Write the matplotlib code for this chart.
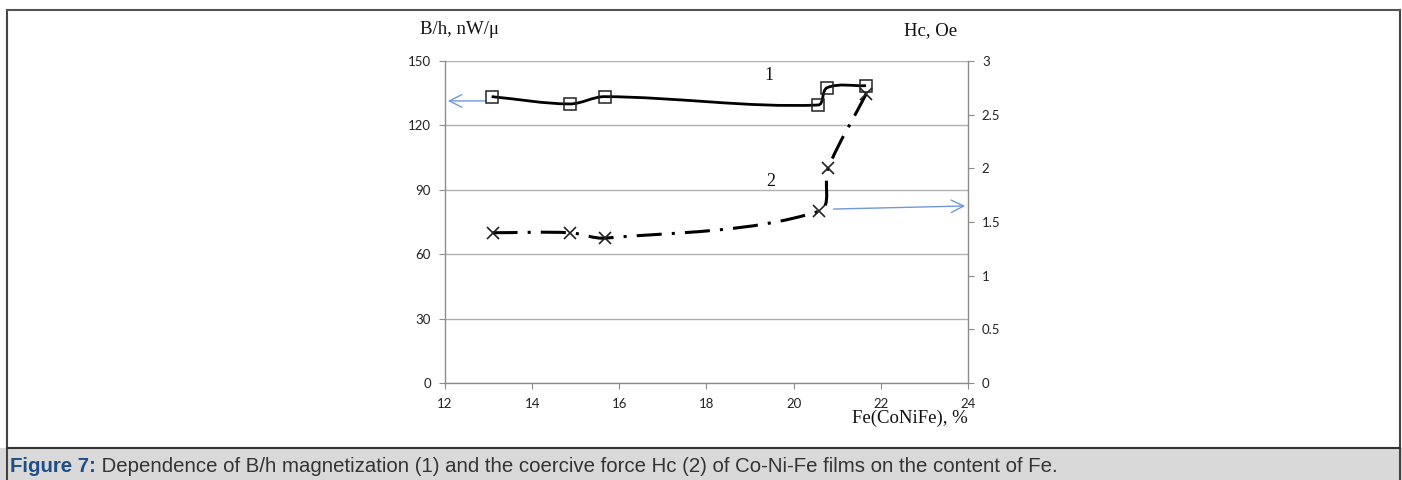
import matplotlib
matplotlib.use("Agg")
import matplotlib.pyplot as plt
from matplotlib.path import Path
from matplotlib.patches import PathPatch, Rectangle
from matplotlib import font_manager
import numpy as np

# ---- data ----
fe_bh = [13.07, 14.87, 15.66, 20.56, 20.77, 21.66]
bh = [133.4, 130.0, 133.4, 129.5, 137.6, 138.5]
fe_hc = [13.09, 14.87, 15.68, 20.58, 20.79, 21.66]
hc = [1.40, 1.40, 1.35, 1.60, 2.00, 2.69]
x_ticks = [12, 14, 16, 18, 20, 22, 24]
y_left_ticks = [0, 30, 60, 90, 120, 150]
y_right_ticks = [0, 0.5, 1, 1.5, 2, 2.5, 3]
right_tick_labels = ["0", "0.5", "1", "1.5", "2", "2.5", "3"]
arrow_left = (13.0, 131.4, 12.0, 131.4)
arrow_right = (20.85, 1.62, 24.0, 1.65)
caption_bold = "Figure 7:"
caption_rest = " Dependence of B/h magnetization (1) and the coercive force Hc (2) of Co-Ni-Fe films on the content of Fe."

W, H = 1402, 480
fig = plt.figure(figsize=(W / 100, H / 100), dpi=100)

installed = {f.name for f in font_manager.fontManager.ttflist}
tick_family = "Liberation Sans Narrow" if "Liberation Sans Narrow" in installed else "Lato"

# frame and caption band
fig.patches.append(Rectangle((0, 0), 1, 1 - 448 / H, transform=fig.transFigure,
                             facecolor="#d9d9d9", edgecolor="none", zorder=0))
fig.add_artist(plt.Line2D([7 / W, 7 / W], [0, 1 - 10 / H], color="#444444", lw=1.5))
fig.add_artist(plt.Line2D([1400 / W, 1400 / W], [0, 1 - 10 / H], color="#444444", lw=1.5))
fig.add_artist(plt.Line2D([7 / W, 1400 / W], [1 - 10 / H, 1 - 10 / H], color="#555555", lw=1.5))
fig.add_artist(plt.Line2D([7 / W, 1400 / W], [1 - 448 / H, 1 - 448 / H], color="#333333", lw=1.5))

ax_w_px, ax_h_px = 968 - 445, 383 - 61
ax = fig.add_axes([445 / W, 1 - 383 / H, ax_w_px / W, ax_h_px / H])
ax2 = ax.twinx()

ax.set_xlim(12, 24)
ax.set_ylim(0, 150)
ax2.set_ylim(0, 3)

tick_font = dict(family=tick_family, size=9.5, color="#222222")
ax.set_xticks(x_ticks)
ax.set_xticklabels([str(t) for t in x_ticks], **tick_font)
ax.set_yticks(y_left_ticks)
ax.set_yticklabels([str(t) for t in y_left_ticks], **tick_font)
ax2.set_yticks(y_right_ticks)
ax2.set_yticklabels(right_tick_labels, **tick_font)

for a in (ax, ax2):
    for s in a.spines.values():
        s.set_visible(False)
ax.spines["left"].set_visible(True)
ax.spines["bottom"].set_visible(True)
ax2.spines["right"].set_visible(True)
for s in (ax.spines["left"], ax.spines["bottom"], ax2.spines["right"]):
    s.set_color("#8c8c8c")
    s.set_linewidth(1.0)
ax.tick_params(axis="y", direction="out", length=4, color="#8c8c8c", pad=6)
ax.tick_params(axis="x", direction="out", length=4, color="#8c8c8c", pad=7)
ax2.tick_params(axis="y", direction="out", length=4, color="#8c8c8c", pad=6)
ax.yaxis.grid(True, color="#b0b0b0", lw=1.0)
ax.set_axisbelow(True)


def smooth_path(xs, ys, sx, sy):
    # smoothing computed in pixel-like space so the curve does not loop
    pts = np.column_stack([np.asarray(xs) * sx, np.asarray(ys) * sy]).astype(float)
    n = len(pts)
    verts = [pts[0]]
    codes = [Path.MOVETO]
    for i in range(n - 1):
        p0 = pts[i - 1] if i > 0 else pts[i]
        p1 = pts[i]
        p2 = pts[i + 1]
        p3 = pts[i + 2] if i + 2 < n else pts[i + 1]
        seg = np.linalg.norm(p2 - p1)
        t1 = p2 - p0
        t2 = p3 - p1
        t1 = t1 / (np.linalg.norm(t1) or 1.0)
        t2 = t2 / (np.linalg.norm(t2) or 1.0)
        c1 = p1 + t1 * seg / 3.0
        c2 = p2 - t2 * seg / 3.0
        verts += [c1, c2, p2]
        codes += [Path.CURVE4] * 3
    verts = np.array(verts)
    verts[:, 0] /= sx
    verts[:, 1] /= sy
    return Path(verts, codes)


p1 = PathPatch(smooth_path(fe_bh, bh, ax_w_px / 12, ax_h_px / 150),
               facecolor="none", edgecolor="black", lw=2.0, zorder=3)
ax.add_patch(p1)
ax.plot(fe_bh, bh, linestyle="none", marker="s", ms=8, mfc="none", mec="#222222", mew=1.1, zorder=4)

p2 = PathPatch(smooth_path(fe_hc, hc, ax_w_px / 12, ax_h_px / 3),
               facecolor="none", edgecolor="black", lw=2.2,
               linestyle=(0, (8.2, 3.3, 1.0, 3.3)), zorder=3)
ax2.add_patch(p2)
ax2.plot(fe_hc, hc, linestyle="none", marker="x", ms=8, mec="#222222", mew=1.2, zorder=4)

# arrows
ax.annotate("", xy=(arrow_left[2], arrow_left[3]), xytext=(arrow_left[0], arrow_left[1]),
            arrowprops=dict(arrowstyle="->,head_length=0.9,head_width=0.45", color="#6f9ad6", lw=1.0),
            annotation_clip=False)
ax2.annotate("", xy=(arrow_right[2], arrow_right[3]), xytext=(arrow_right[0], arrow_right[1]),
             arrowprops=dict(arrowstyle="->,head_length=0.9,head_width=0.45", color="#6f9ad6", lw=1.0),
             annotation_clip=False)

serif = dict(family="Liberation Serif", color="#111111")
fig.text(460 / W, 1 - 30 / H, "B/h, nW/\u03bc", ha="center", va="center", size=13.5, **serif)
fig.text(931 / W, 1 - 31 / H, "Hc, Oe", ha="center", va="center", size=13.5, **serif)
fig.text(968 / W, 1 - 418 / H, "Fe(CoNiFe), %", ha="right", va="center", size=13.5, **serif)
fig.text(769 / W, 1 - 75 / H, "1", ha="center", va="center", size=13, **serif)
fig.text(771 / W, 1 - 182 / H, "2", ha="center", va="center", size=13, **serif)

t1 = fig.text(10 / W, 1 - 466 / H, caption_bold, ha="left", va="center", size=14.65,
              family="Liberation Sans", weight="bold", color="#1f4e86")
fig.canvas.draw()
bb = t1.get_window_extent()
fig.text(bb.x1 / W, 1 - 466 / H, caption_rest, ha="left", va="center", size=14.65,
         family="Liberation Sans", color="#333333")

fig.savefig("out.png", dpi=100)
